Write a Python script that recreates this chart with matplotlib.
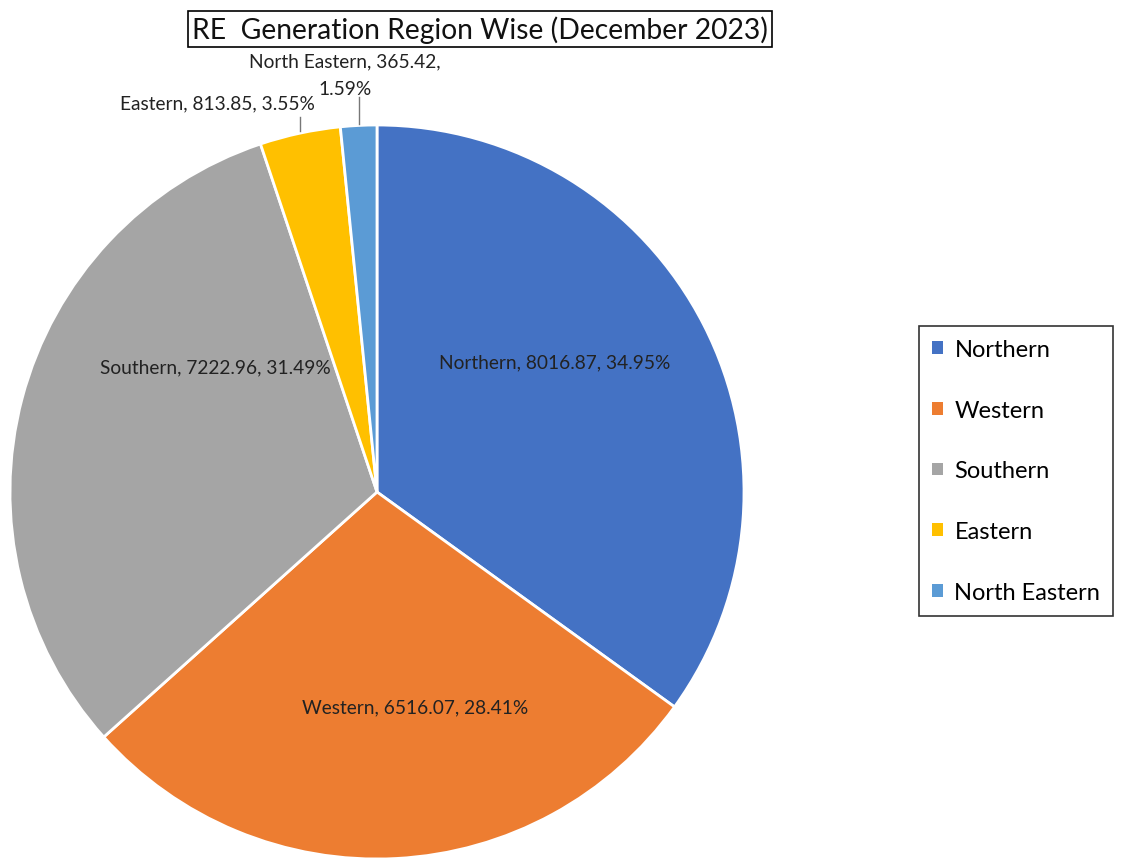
import matplotlib
matplotlib.use("Agg")
import matplotlib.pyplot as plt
import numpy as np

plt.rcParams['font.family'] = ['Lato', 'DejaVu Sans']

# data
regions = ["Northern", "Western", "Southern", "Eastern", "North Eastern"]
generation = [8016.87, 6516.07, 7222.96, 813.85, 365.42]
shares = ["34.95%", "28.41%", "31.49%", "3.55%", "1.59%"]
colors = ["#4472C4", "#ED7D31", "#A5A5A5", "#FFC000", "#5B9BD5"]

# label placement (in pie units, radius = 1)
label_pos = [(0.485, 0.354), (0.104, -0.586), (-0.441, 0.341),
             (-0.436, 1.060), (-0.088, 1.137)]
label_text = [
    f"{regions[0]}, {generation[0]:.2f}, {shares[0]}",
    f"{regions[1]}, {generation[1]:.2f}, {shares[1]}",
    f"{regions[2]}, {generation[2]:.2f}, {shares[2]}",
    f"{regions[3]}, {generation[3]:.2f}, {shares[3]}",
    f"{regions[4]}, {generation[4]:.2f},\n{shares[4]}",
]

fig = plt.figure(figsize=(11.22, 8.62), dpi=100)
R = 367
cx, cy = 377, 493
ax = fig.add_axes([(cx - R) / 1122, (862 - cy - R) / 862, 2 * R / 1122, 2 * R / 862])

wedges, _ = ax.pie(generation, colors=colors, startangle=90, counterclock=False,
                   radius=1, wedgeprops=dict(edgecolor="white", linewidth=2))
ax.set_xlim(-1, 1)
ax.set_ylim(-1, 1)
ax.set_aspect("equal")
ax.axis("off")

for i, (w, (x, y), txt) in enumerate(zip(wedges, label_pos, label_text)):
    ax.text(x, y, txt, ha="center", va="center", fontsize=13.8, color="#222222",
            linespacing=1.75, clip_on=False)
    if i >= 3:
        mid = np.deg2rad((w.theta1 + w.theta2) / 2)
        lx = np.cos(mid)
        top = 1.022 if i == 3 else 1.076
        ax.plot([lx, lx], [np.sin(mid) + 0.005, top], color="#777777", lw=1, clip_on=False)

fig.text(480 / 1122, 1 - 30 / 862, "RE  Generation Region Wise (December 2023)",
         ha="center", va="center", fontsize=20.3, color="#111111",
         bbox=dict(boxstyle="square,pad=0.15", facecolor="white", edgecolor="black", linewidth=1.2))

leg = fig.legend(wedges, regions, loc="upper left", bbox_to_anchor=(919 / 1122, 1 - 327 / 862),
                 frameon=True, fancybox=False, fontsize=17, handlelength=0.45, handleheight=0.45,
                 labelspacing=1.68, borderpad=0.55, handletextpad=0.5, borderaxespad=0)
leg.get_frame().set_edgecolor("black")
leg.get_frame().set_linewidth(1.2)
for h in leg.legend_handles:
    h.set_edgecolor("none")

fig.savefig("out.png", dpi=100)
